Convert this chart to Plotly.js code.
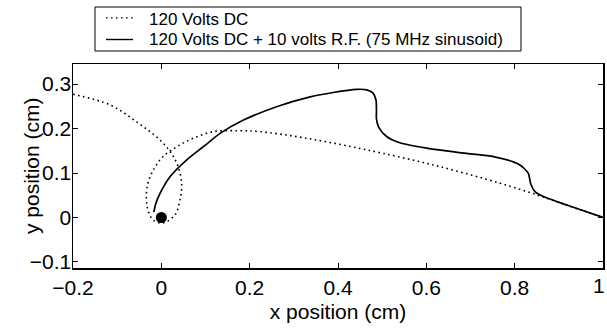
<!DOCTYPE html>
<html>
<head>
<meta charset="utf-8">
<script src="https://cdn.plot.ly/plotly-3.0.1.min.js"></script>
<style>html,body{margin:0;padding:0;background:#fff;}#chart{width:607px;height:328px;}</style>
</head>
<body>
<div id="chart"></div>
<script>
// Series 1: 120 Volts DC (dotted)
const dcX = [-0.200, -0.116, -0.056, -0.003, 0.023, 0.038, 0.046, 0.042, 0.031, 0.004, -0.018, -0.032, -0.032, -0.018, 0.004, 0.035, 0.072, 0.118, 0.178, 0.223, 0.299, 0.374, 0.465, 0.616, 0.767, 0.850, 0.920, 1.000];
const dcY = [0.277, 0.253, 0.215, 0.174, 0.144, 0.114, 0.077, 0.039, 0.006, -0.012, -0.006, 0.024, 0.069, 0.107, 0.137, 0.159, 0.178, 0.193, 0.195, 0.193, 0.183, 0.170, 0.152, 0.118, 0.077, 0.051, 0.027, 0.000];

// Series 2: 120 Volts DC + 10 volts R.F. (solid)
const rfX = [-0.017, -0.013, -0.003, 0.020, 0.057, 0.095, 0.133, 0.186, 0.261, 0.337, 0.389, 0.442, 0.465, 0.479, 0.486, 0.487, 0.487, 0.492, 0.510, 0.540, 0.601, 0.691, 0.752, 0.797, 0.812, 0.831, 0.836, 0.846, 0.865, 0.918, 1.000];
const rfY = [0.012, 0.030, 0.054, 0.092, 0.129, 0.159, 0.189, 0.219, 0.249, 0.271, 0.281, 0.288, 0.287, 0.280, 0.264, 0.242, 0.222, 0.203, 0.182, 0.168, 0.156, 0.144, 0.137, 0.125, 0.118, 0.099, 0.077, 0.058, 0.047, 0.028, 0.000];

// Start point marker
const startX = [0];
const startY = [0];

const seriesNames = ["120 Volts DC", "120 Volts DC + 10 volts R.F. (75 MHz sinusoid)"];
const xTicks = [-0.2, 0, 0.2, 0.4, 0.6, 0.8, 1];
const xTickText = ['\u22120.2', '0', '0.2', '0.4', '0.6', '0.8', ''];
const xLastLabel = '1';   // drawn right-aligned so it stays inside the page, as in the reference
const yTicks = [-0.1, 0, 0.1, 0.2, 0.3];
const xTitle = 'x position (cm)';
const yTitle = 'y position (cm)';

const FONT = "'Liberation Sans', Arial, Helvetica, sans-serif";
const DOTS = '1.6px,3.4px';

const traces = [
  {x: dcX, y: dcY, name: seriesNames[0], type: 'scatter', mode: 'lines',
   line: {color: '#000', width: 1.6, dash: DOTS, shape: 'spline', smoothing: 1}},
  {x: rfX, y: rfY, name: seriesNames[1], type: 'scatter', mode: 'lines',
   line: {color: '#000', width: 1.7, shape: 'spline', smoothing: 0.7}},
  {x: startX, y: startY, type: 'scatter', mode: 'markers',
   marker: {color: '#000', size: 11}}
];

const axisCommon = {
  showline: true, linecolor: '#000', linewidth: 1.5, mirror: 'ticks',
  ticks: 'inside', ticklen: 5, tickwidth: 1, tickcolor: '#000',
  showgrid: false, zeroline: false, ticklabeloverflow: 'allow',
  tickfont: {family: FONT, size: 21, color: '#000'}
};

// Legend box (drawn in paper coordinates, outside the plot area)
const legBox = {x0: 0.0415, x1: 0.8453, y0: 1.0637, y1: 1.2794};
const legRows = [1.2181, 1.1201];
const legSample = {x0: 0.0623, x1: 0.1132};
const legTextX = 0.1415;

const shapes = [
  {type: 'rect', xref: 'paper', yref: 'paper', x0: legBox.x0, x1: legBox.x1, y0: legBox.y0, y1: legBox.y1,
   line: {color: '#000', width: 1}, fillcolor: '#fff'},
  {type: 'line', xref: 'paper', yref: 'paper', x0: legSample.x0, x1: legSample.x1, y0: legRows[0] + 0.008, y1: legRows[0] + 0.008,
   line: {color: '#000', width: 1.4, dash: DOTS}},
  {type: 'line', xref: 'paper', yref: 'paper', x0: legSample.x0, x1: legSample.x1, y0: legRows[1], y1: legRows[1],
   line: {color: '#000', width: 1.4}}
];

const annotations = [
  {xref: 'paper', yref: 'paper', x: legTextX, y: legRows[0], xanchor: 'left', yanchor: 'middle',
   text: seriesNames[0], showarrow: false, borderpad: 0, font: {family: FONT, size: 17, color: '#000'}},
  {xref: 'paper', yref: 'paper', x: legTextX, y: legRows[1], xanchor: 'left', yanchor: 'middle',
   text: seriesNames[1], showarrow: false, borderpad: 0, font: {family: FONT, size: 17, color: '#000'}},
  {xref: 'paper', yref: 'paper', x: -0.0792, y: 0.5, xanchor: 'center', yanchor: 'middle',
   text: yTitle, textangle: -90, showarrow: false, font: {family: FONT, size: 21, color: '#000'}},
  {xref: 'paper', yref: 'paper', x: 1.0066, y: -0.0882, xanchor: 'right', yanchor: 'middle',
   text: xLastLabel, showarrow: false, borderpad: 0, font: {family: FONT, size: 21, color: '#000'}}
];

const layout = {
  width: 607, height: 328,
  margin: {l: 73, r: 4, t: 64, b: 60},
  paper_bgcolor: '#fff', plot_bgcolor: '#fff',
  font: {family: FONT, color: '#000'},
  showlegend: false,
  shapes: shapes,
  annotations: annotations,
  xaxis: Object.assign({}, axisCommon, {
    range: [-0.2, 1], tickvals: xTicks, ticktext: xTickText,
    title: {text: xTitle, standoff: 6, font: {family: FONT, size: 21, color: '#000'}}
  }),
  yaxis: Object.assign({}, axisCommon, {
    range: [-0.1135, 0.345], tickvals: yTicks, ticklabelstandoff: -4
  })
};

Plotly.newPlot('chart', traces, layout, {staticPlot: true, displayModeBar: false});
</script>
</body>
</html>
